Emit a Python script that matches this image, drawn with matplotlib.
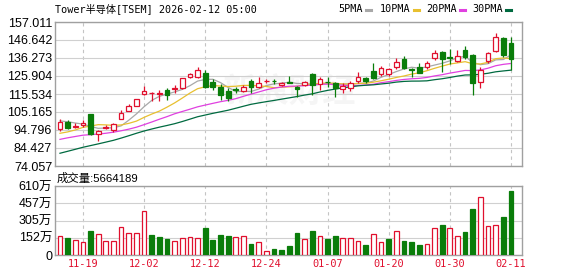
import matplotlib
matplotlib.use('Agg')
import matplotlib.pyplot as plt
from matplotlib.lines import Line2D
import numpy as np

# daily OHLC, 2025-11-14 .. 2026-02-11 (60 sessions)
opens = [95.4, 99.6, 96.5, 97.5, 103.8, 92.3, 95.8, 94.8, 101.3, 105.9,
         108.8, 115.4, 116.0, 115.6, 117.8, 118.3, 118.8, 125.1, 125.5, 127.4,
         122.6, 119.7, 117.4, 118.4, 117.4, 123.2, 119.4, 122.8, 123.2, 120.7,
         122.3, 119.4, 120.7, 126.9, 121.1, 122.6, 121.7, 118.2, 118.8, 123.2,
         124.6, 129.0, 126.9, 127.0, 131.3, 135.5, 130.0, 130.9, 130.9, 136.4,
         139.7, 136.9, 134.4, 140.7, 137.8, 122.4, 134.4, 140.1, 147.8, 145.1]
highs = [101.1, 100.3, 99.0, 100.6, 104.0, 95.0, 97.5, 99.0, 106.3, 109.8,
         112.9, 120.1, 116.5, 117.8, 118.8, 120.9, 124.8, 127.4, 130.9, 129.4,
         124.0, 121.1, 118.8, 119.7, 121.0, 124.0, 125.5, 124.0, 124.3, 122.5,
         125.9, 120.0, 123.0, 127.5, 125.1, 125.1, 122.3, 121.7, 122.9, 128.4,
         125.5, 133.6, 131.5, 130.5, 136.1, 137.6, 130.3, 133.2, 134.5, 140.9,
         140.2, 141.3, 140.7, 143.2, 138.4, 131.1, 139.8, 150.9, 148.4, 148.4]
lows = [94.2, 95.1, 95.8, 96.7, 91.9, 88.4, 95.3, 93.8, 101.0, 105.5,
        108.5, 115.0, 111.7, 111.7, 112.1, 116.3, 118.2, 124.7, 124.7, 118.8,
        117.8, 112.1, 111.7, 116.3, 116.9, 116.3, 118.8, 121.7, 121.5, 120.3,
        121.7, 114.0, 120.0, 115.0, 117.8, 119.5, 114.0, 115.9, 117.5, 121.7,
        121.7, 124.0, 125.9, 126.0, 129.8, 129.8, 125.5, 127.5, 130.0, 135.1,
        128.2, 133.0, 134.0, 135.9, 115.1, 119.0, 133.5, 139.7, 136.9, 129.2]
closes = [99.6, 95.8, 97.3, 99.0, 92.3, 94.4, 96.7, 98.1, 104.4, 108.6,
          112.5, 117.4, 116.3, 116.1, 115.0, 118.9, 124.6, 127.0, 129.4, 119.7,
          119.4, 115.0, 113.0, 118.0, 119.7, 119.4, 121.7, 123.2, 122.8, 122.0,
          121.9, 118.2, 122.6, 120.7, 124.0, 122.2, 118.8, 120.1, 121.7, 125.5,
          123.2, 124.6, 130.7, 129.8, 134.0, 130.7, 129.6, 127.8, 133.6, 139.3,
          135.9, 136.5, 137.4, 136.8, 122.0, 129.5, 139.3, 148.4, 137.8, 135.5]
# volume in 万 shares
volume = [168, 147, 133, 118, 215, 186, 124, 124, 245, 197,
          197, 389, 177, 156, 138, 124, 147, 156, 147, 236,
          133, 177, 168, 156, 168, 97, 112, 35, 53, 44,
          80, 197, 138, 212, 168, 138, 168, 147, 147, 124,
          88, 186, 112, 138, 212, 124, 115, 88, 97, 236,
          265, 236, 168, 200, 404, 510, 256, 265, 333, 566.4189]
# closes before the window, only used to start the moving averages
prev_closes = [62, 63, 64, 63, 65, 66, 67, 66, 68, 70,
               78, 82, 84, 86, 88, 87, 86, 88, 90, 90,
               88, 86, 84, 85, 86, 98, 101, 102, 99.4]

tick_idx = [3, 11, 19, 27, 35, 43, 51, 59]
tick_lab = ['11-19', '12-02', '12-12', '12-24', '01-07', '01-20', '01-30', '02-11']
price_ticks = [74.057, 84.427, 94.796, 105.165, 115.534, 125.904, 136.273, 146.642, 157.011]
vol_ticks = [0, 152.5, 305, 457.5, 610]
vol_lab = ['0', '152万', '305万', '457万', '610万']

ma_names = ['5PMA', '10PMA', '20PMA', '30PMA']
ma_len = [5, 10, 20, 30]
ma_col = ['#a8a8a8', '#e8c030', '#e040e0', '#006a40']

RED = '#e0102e'
GREEN = '#0a7d0a'
mono = ['DejaVu Sans Mono', 'Noto Sans CJK SC']
sans = ['Liberation Sans', 'Noto Sans CJK SC']

o = np.array(opens); h = np.array(highs); l = np.array(lows); c = np.array(closes)
x = np.arange(len(c))
up = c >= o
prev = np.concatenate([[o[0]], c[:-1]])
vol_up = c >= prev

fig = plt.figure(figsize=(5.78, 2.76), dpi=100)
W, H = 578, 276
ax = fig.add_axes([55 / W, 1 - 166 / H, 467 / W, 144 / H])
axv = fig.add_axes([55 / W, 1 - 255 / H, 467 / W, 69 / H])

for a in (ax, axv):
    a.set_xlim(-0.65, 60.44)
    for s in a.spines.values():
        s.set_color('#a0a0a0')
        s.set_linewidth(1)
    a.tick_params(length=0, labelsize=9, pad=2)
    for t in tick_idx:
        a.axvline(t, color='#c4c4c4', lw=0.8, ls=(0, (3, 3)), zorder=0)

# watermark
ax.text(0.5, 0.5, '新浪财经', transform=ax.transAxes, ha='center', va='center',
        fontsize=24, color='#f5f5f5', family=sans, zorder=0, fontweight='bold')

ax.set_ylim(price_ticks[0], price_ticks[-1])
ax.set_yticks(price_ticks)
ax.set_yticklabels(['%.3f' % v for v in price_ticks], family=sans)
ax.yaxis.grid(True, color='#d0d0d0', lw=0.8)
ax.set_axisbelow(True)
ax.set_xticks([])

# moving averages
allc = np.concatenate([prev_closes, c])
n0 = len(prev_closes)
for name, n, col in zip(ma_names, ma_len, ma_col):
    ma = np.array([allc[n0 + i - n + 1:n0 + i + 1].mean() for i in range(len(c))])
    ax.plot(x, ma, color=col, lw=0.9, zorder=2)

# candles
bw = 0.62
for i in range(len(c)):
    lo_b, hi_b = min(o[i], c[i]), max(o[i], c[i])
    if hi_b - lo_b < 0.25:
        hi_b = lo_b + 0.25
    if up[i]:
        ax.vlines(x[i], hi_b, h[i], color=RED, lw=0.9, zorder=3)
        ax.vlines(x[i], l[i], lo_b, color=RED, lw=0.9, zorder=3)
        ax.bar(x[i], hi_b - lo_b, bottom=lo_b, width=bw, facecolor='white',
               edgecolor=RED, lw=0.9, zorder=4)
    else:
        ax.vlines(x[i], l[i], h[i], color=GREEN, lw=0.9, zorder=3)
        ax.bar(x[i], hi_b - lo_b, bottom=lo_b, width=bw, facecolor=GREEN,
               edgecolor=GREEN, lw=0.9, zorder=4)

# volume
axv.set_ylim(0, 610)
axv.set_yticks(vol_ticks)
axv.set_yticklabels(vol_lab, family=sans)
axv.yaxis.grid(True, color='#d0d0d0', lw=0.8)
axv.set_axisbelow(True)
v = np.array(volume)
axv.bar(x[vol_up], v[vol_up], width=bw, facecolor='white', edgecolor=RED, lw=0.9, zorder=3)
axv.bar(x[~vol_up], v[~vol_up], width=bw, facecolor=GREEN, edgecolor=GREEN, lw=0.9, zorder=3)
axv.set_xticks(tick_idx)
axv.set_xticklabels(tick_lab, color=RED, family=mono, fontsize=7.4)
axv.tick_params(axis='x', pad=3)

# texts
fig.text(55 / W, 1 - 9 / H, 'Tower半导体[TSEM] 2026-02-12 05:00', ha='left', va='center',
         fontsize=7.3, family=mono)
fig.text(57 / W, 1 - 178 / H, '成交量:%d' % round(volume[-1] * 1e4), ha='left', va='center',
         fontsize=8.2, family=sans)

leg_x = [338, 380, 426, 472]
for name, col, lx in zip(ma_names, ma_col, leg_x):
    t = fig.text(lx / W, 1 - 9 / H, name, ha='left', va='center', fontsize=7.3, family=mono)
    wtxt = len(name) * 6.0
    fig.add_artist(Line2D([(lx + wtxt + 4) / W, (lx + wtxt + 9) / W], [1 - 10 / H, 1 - 10 / H],
                          color=col, lw=2.2))

fig.savefig('out.png', dpi=100)
